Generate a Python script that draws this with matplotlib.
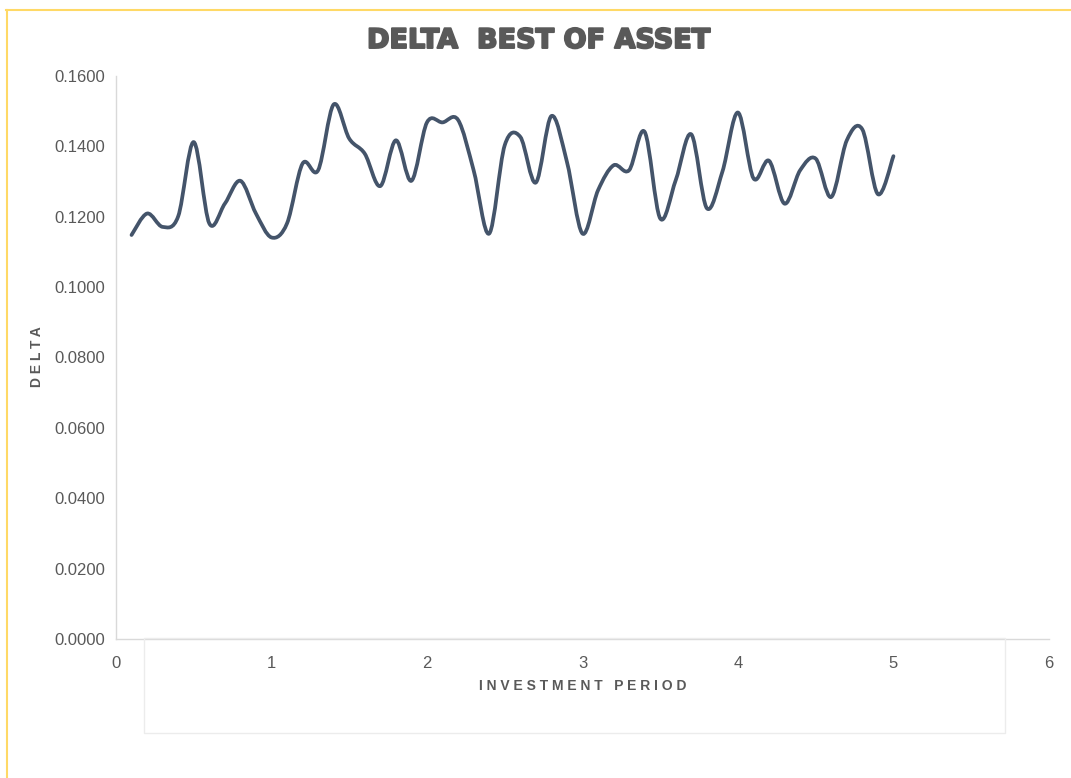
import numpy as np
import matplotlib.pyplot as plt
import matplotlib.patheffects as pe
from matplotlib.path import Path
from matplotlib.patches import PathPatch, Rectangle
from matplotlib.lines import Line2D

plt.rcParams['font.family'] = ['Liberation Sans', 'DejaVu Sans']

period = [0.1, 0.2, 0.3, 0.4, 0.5, 0.6, 0.7, 0.8, 0.9, 1.0,
          1.1, 1.2, 1.3, 1.4, 1.5, 1.6, 1.7, 1.8, 1.9, 2.0,
          2.1, 2.2, 2.3, 2.4, 2.5, 2.6, 2.7, 2.8, 2.9, 3.0,
          3.1, 3.2, 3.3, 3.4, 3.5, 3.6, 3.7, 3.8, 3.9, 4.0,
          4.1, 4.2, 4.3, 4.4, 4.5, 4.6, 4.7, 4.8, 4.9, 5.0]
delta = [0.1148, 0.1209, 0.1171, 0.1201, 0.1412, 0.1181, 0.1237, 0.1302, 0.1209, 0.1141,
         0.1181, 0.1351, 0.1332, 0.1519, 0.1422, 0.1379, 0.1287, 0.1417, 0.1302, 0.1468,
         0.1468, 0.1475, 0.1332, 0.1152, 0.1403, 0.1427, 0.1297, 0.1486, 0.1356, 0.1152,
         0.1275, 0.1346, 0.1332, 0.1441, 0.1195, 0.1304, 0.1434, 0.1224, 0.1328, 0.1496,
         0.1309, 0.1359, 0.1237, 0.1332, 0.1365, 0.1256, 0.1417, 0.1448, 0.1264, 0.1372]

x_ticks = [0, 1, 2, 3, 4, 5, 6]
y_ticks = [0.0, 0.02, 0.04, 0.06, 0.08, 0.10, 0.12, 0.14, 0.16]

GRAY = '#595959'
LINE = '#44546a'


def smooth_path(xs, ys, k=1/6):
    # cubic bezier through every point, catmull-rom style handles
    xs, ys = np.asarray(xs), np.asarray(ys)
    pts = np.column_stack([xs, ys])
    verts = [pts[0]]
    codes = [Path.MOVETO]
    n = len(pts)
    for i in range(n - 1):
        p0 = pts[max(i - 1, 0)]
        p1 = pts[i]
        p2 = pts[i + 1]
        p3 = pts[min(i + 2, n - 1)]
        c1 = p1 + (p2 - p0) * k
        c2 = p2 - (p3 - p1) * k
        verts += [c1, c2, p2]
        codes += [Path.CURVE4] * 3
    return Path(verts, codes)


fig = plt.figure(figsize=(10.71, 7.78), dpi=100)
ax = fig.add_axes([0.1083, 0.1787, 0.8711, 0.7237])

ax.add_patch(PathPatch(smooth_path(period, delta), facecolor='none',
                       edgecolor=LINE, lw=2.7, capstyle='round',
                       joinstyle='round'))

ax.set_xlim(0, 6)
ax.set_ylim(0, 0.16)
ax.set_xticks(x_ticks)
ax.set_yticks(y_ticks)
ax.set_yticklabels([f'{v:.4f}' for v in y_ticks])
ax.tick_params(length=0, labelsize=12, labelcolor=GRAY, pad=8)
ax.tick_params(axis='x', pad=12)

for s in ['top', 'right']:
    ax.spines[s].set_visible(False)
for s in ['left', 'bottom']:
    ax.spines[s].set_color('#d9d9d9')
    ax.spines[s].set_linewidth(1)

fig.text(539 / 1071, 1 - 41 / 778, 'DELTA  BEST OF ASSET', ha='center',
         va='center', fontsize=19.5, fontweight='heavy', color=GRAY,
         family=['DejaVu Sans'],
         path_effects=[pe.withStroke(linewidth=1.4, foreground=GRAY)])
fig.text(583 / 1071, 1 - 686 / 778, 'I N V E S T M E N T   P E R I O D',
         ha='center', va='center', fontsize=10, fontweight='bold',
         color=GRAY)
fig.text(37 / 1071, 1 - 357 / 778, 'D E L T A', ha='center', va='center',
         rotation=90, fontsize=10, fontweight='bold', color=GRAY)

# faint box under the axis and the yellow frame edges
fig.patches.append(Rectangle((144 / 1071, 1 - 733 / 778), 861 / 1071,
                             95 / 778, transform=fig.transFigure,
                             facecolor='none', edgecolor='#ececec', lw=1))
fig.lines.append(Line2D([6 / 1071, 1], [1 - 9.5 / 778] * 2,
                        transform=fig.transFigure, color='#ffd966', lw=1.5))
fig.lines.append(Line2D([6.5 / 1071] * 2, [0, 1 - 9.5 / 778],
                        transform=fig.transFigure, color='#ffd966', lw=1.5))

fig.savefig('out.png', dpi=100, facecolor='white')
